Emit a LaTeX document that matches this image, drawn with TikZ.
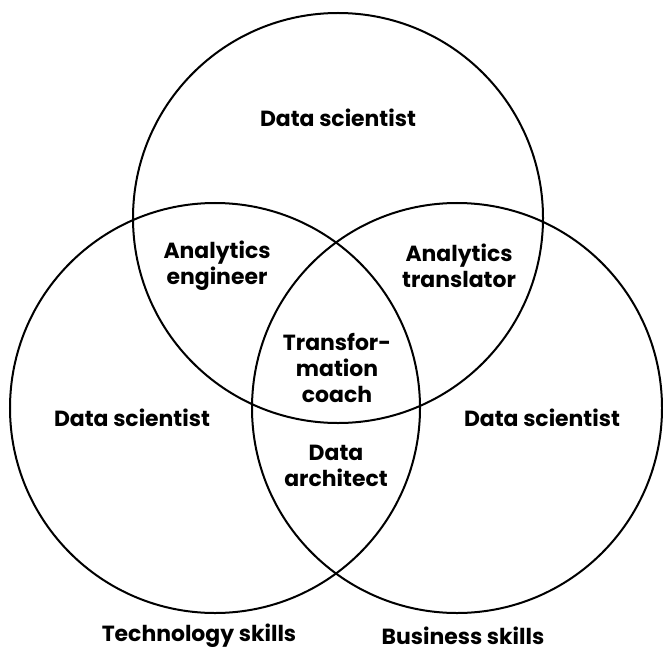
\documentclass[tikz,border=0pt]{standalone}
\usepackage{fontspec}
\setmainfont{Poppins}
\usepackage{xcolor}
\usepackage{tikz}
\usetikzlibrary{positioning}
\definecolor{ink}{HTML}{000000}
\tikzset{
  venn/.style  ={circle,draw=ink,line width=2bp,minimum size=410bp,inner sep=0pt},
  role/.style  ={align=center,text=ink,inner sep=0pt,
                 font=\fontsize{22}{26.5}\selectfont\bfseries},
  skill/.style ={role}
}

\begin{document}
\begin{tikzpicture}[x=1bp,y=-1bp]
    \useasboundingbox (0,0) rectangle (663,651);
    % the three skill sets
    \node[venn] (top)  at (338,218) {};
    \node[venn] (tech) at (215,408) {};
    \node[venn] (biz)  at (457,408) {};
    % roles in each region
    \node[role] (dsTop)   at (338,118) {Data scientist};
    \node[role] (dsLeft)  at (132,418) {Data scientist};
    \node[role] (dsRight) at (542,418) {Data scientist};
    \node[role] (engineer)   at (217,266) {Analytics\\engineer};
    \node[role] (translator) at (459,266) {Analytics\\translator};
    \node[role] (coach)      at (337,368) {Transfor-\\mation\\coach};
    \node[role] (architect)  at (336,466) {Data\\architect};
    % captions under the lower circles
    \node[skill] (techLbl) at (199,636) {Technology skills};
    \node[skill] (bizLbl)  at (463,636) {Business skills};
  \end{tikzpicture}
\end{document}
